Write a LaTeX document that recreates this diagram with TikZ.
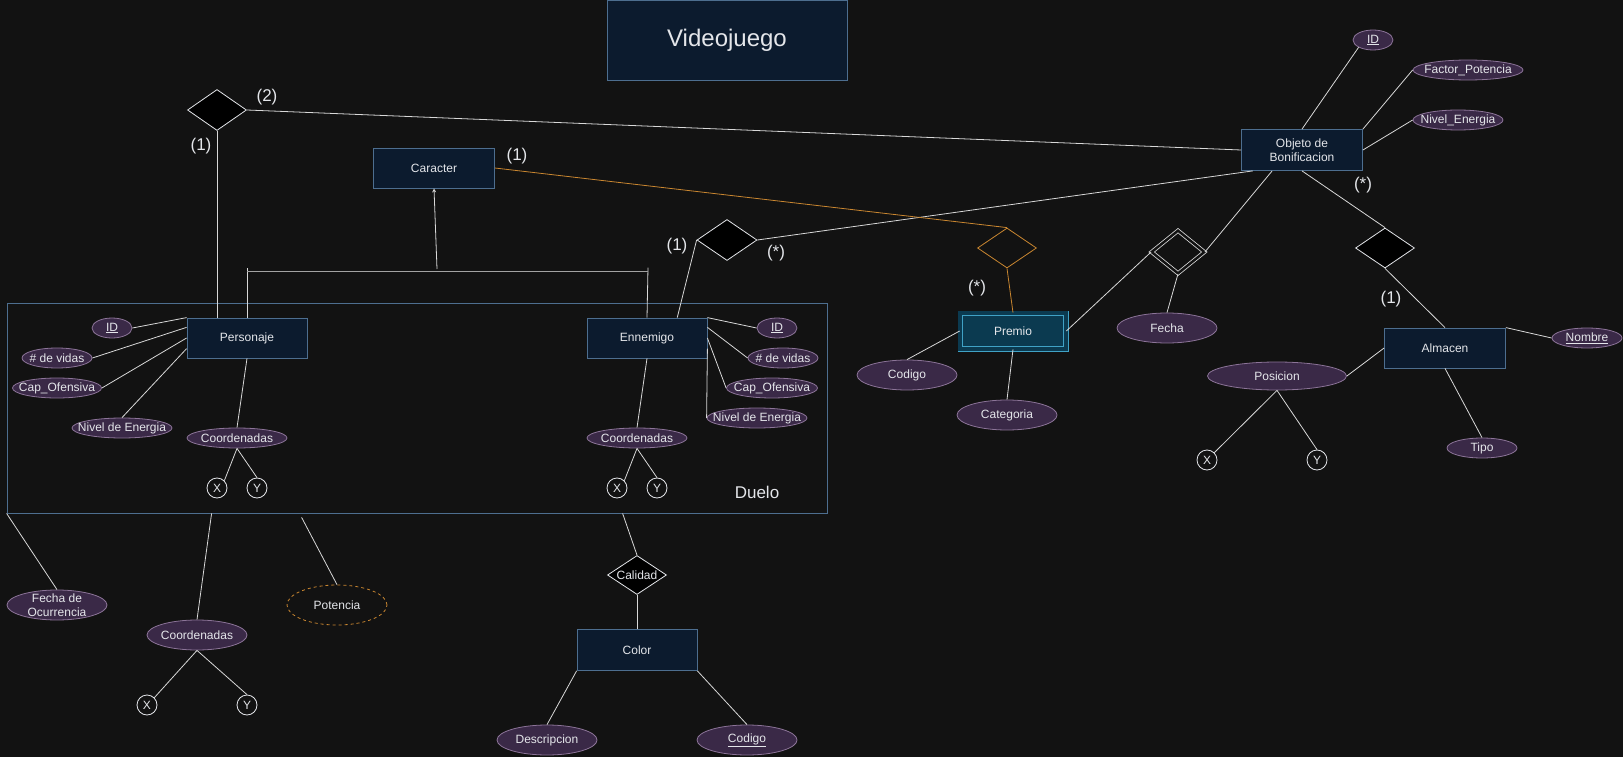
\documentclass[tikz,border=0pt]{standalone}
\usepackage{fontspec}
\setmainfont{Liberation Sans}
\usepackage{tikz}
\usetikzlibrary{shapes.geometric}
\usetikzlibrary{calc}
\definecolor{fondo}{HTML}{121212}
\definecolor{blanco}{HTML}{E4E6EA}
\definecolor{gris}{HTML}{D8D8D8}
\definecolor{entrelleno}{HTML}{0C1B2E}
\definecolor{entborde}{HTML}{4D6E8F}
\definecolor{atrrelleno}{HTML}{3A2947}
\definecolor{atrborde}{HTML}{8C7498}
\definecolor{debrelleno}{HTML}{0B3A50}
\definecolor{debborde}{HTML}{40A2C6}
\definecolor{naranja}{HTML}{C98630}
\tikzset{texto/.style={text=blanco,font=\fontsize{12}{14}\selectfont,inner sep=0pt}}
\tikzset{entidad/.style={texto,draw=entborde,fill=entrelleno,line width=0.8pt,minimum width=120pt,minimum height=40pt}}
\tikzset{atributo/.style={ellipse,draw=atrborde,fill=atrrelleno,line width=0.8pt,inner sep=0pt,minimum width=#1,minimum height=20pt},
		 atributo/.default=100pt}
\tikzset{punto/.style={circle,texto,draw=blanco,line width=0.8pt,minimum size=20pt}}
\tikzset{relacion/.style={diamond,draw=blanco,fill=black,line width=0.8pt,inner sep=0pt,minimum width=59pt,minimum height=41pt}}
\tikzset{con/.style={draw=gris,line width=0.8pt}}
\tikzset{card/.style={text=blanco,font=\fontsize{17}{20}\selectfont,inner sep=0pt}}

\begin{document}
\begin{tikzpicture}[x=1pt,y=-1pt]
	\useasboundingbox (0,0) rectangle (1623,757);
	\fill[fondo] (0,0) rectangle (1623,757);

	\node[entidad,minimum width=240pt,minimum height=80pt,font=\fontsize{24}{28}\selectfont] (titulo) at (727,40) {Videojuego};

	% Duelo
	\node[draw=entborde,line width=0.8pt,minimum width=820pt,minimum height=210pt] (duelo) at (417,408) {};
	\node[card,font=\fontsize{17}{20}\selectfont] (tduelo) at (757,492) {Duelo};

	\node[entidad] (pers) at (247,338) {Personaje};
	\node[entidad] (enem) at (647,338) {Ennemigo};
	\node[entidad,minimum width=121pt] (car) at (434,168) {Caracter};
	\node[entidad,minimum width=121pt,minimum height=41pt,align=center] (obj) at (1302,150) {Objeto de\\Bonificacion};
	\node[entidad,minimum width=121pt] (alm) at (1445,348) {Almacen};
	\node[entidad,minimum width=120pt,minimum height=41pt] (color) at (637,650) {Color};
	\node[entidad,draw=debborde,double=debrelleno,double distance=3.5pt,fill=debrelleno,
		minimum width=105.9pt,minimum height=35.9pt] (premio) at (1013,331) {Premio};

	\node[relacion] (r1) at (217,110) {};
	\node[relacion,minimum width=60pt] (r2) at (727,240) {};
	\node[relacion,minimum height=40pt] (r3) at (1385,248) {};
	\node[relacion,draw=naranja,fill=fondo,minimum height=40pt] (ro) at (1007,248) {};
	\node[relacion,draw=gris,fill=fondo,double=fondo,double distance=2.5pt,minimum width=53pt,minimum height=43pt] (rd) at (1178,252) {};
	\node[relacion,texto,aspect=1.5,minimum width=59pt,minimum height=39pt] (cal) at (637,575) {Calidad};

	% atributos de Personaje
	\node[atributo=40pt,label={[texto]center:\underline{ID}}] (pid) at (112,328) {};
	\node[atributo=70pt,label={[texto]center:\# de vidas}] (pvid) at (57,358) {};
	\node[atributo=89pt,label={[texto]center:Cap\_Ofensiva}] (pcap) at (57,388) {};
	\node[atributo,label={[texto]center:Nivel de Energia}] (pniv) at (122,428) {};
	\node[atributo,label={[texto]center:Coordenadas}] (pcoor) at (237,438) {};
	\node[punto] (px) at (217,488) {X};
	\node[punto] (py) at (257,488) {Y};

	% atributos de Ennemigo
	\node[atributo=40pt,label={[texto]center:\underline{ID}}] (eid) at (777,328) {};
	\node[atributo=70pt,label={[texto]center:\# de vidas}] (evid) at (783,358) {};
	\node[atributo=91pt,label={[texto]center:Cap\_Ofensiva}] (ecap) at (772,388) {};
	\node[atributo,label={[texto]center:Nivel de Energia}] (eniv) at (757,418) {};
	\node[atributo,label={[texto]center:Coordenadas}] (ecoor) at (637,438) {};
	\node[punto] (ex) at (617,488) {X};
	\node[punto] (ey) at (657,488) {Y};

	% atributos de Duelo
	\node[atributo,minimum height=30pt,label={[texto,align=center]center:Fecha de\\Ocurrencia}] (dfec) at (57,605) {};
	\node[atributo,minimum height=30pt,label={[texto]center:Coordenadas}] (dcoor) at (197,635) {};
	\node[punto] (dx) at (147,705) {X};
	\node[punto] (dy) at (247,705) {Y};
	\node[atributo,minimum height=40pt,draw=naranja,fill=none,dashed,label={[texto]center:Potencia}] (dpot) at (337,605) {};

	% atributos de Color
	\node[atributo,minimum height=30pt,label={[texto]center:Descripcion}] (cdes) at (547,740) {};
	\node[atributo,minimum height=30pt,label={[texto]center:\underline{Codigo}}] (ccod) at (747,740) {};

	% atributos de Premio, Objeto y Almacen
	\node[atributo,minimum height=30pt,label={[texto]center:Codigo}] (prcod) at (907,375) {};
	\node[atributo,minimum height=30pt,label={[texto]center:Categoria}] (prcat) at (1007,415) {};
	\node[atributo,minimum height=30pt,label={[texto]center:Fecha}] (fecha) at (1167,328) {};
	\node[atributo=40pt,label={[texto]center:\underline{ID}}] (oid) at (1373,40) {};
	\node[atributo=110pt,label={[texto]center:Factor\_Potencia}] (ofac) at (1468,70) {};
	\node[atributo=90pt,label={[texto]center:Nivel\_Energia}] (oniv) at (1458,120) {};
	\node[atributo=70pt,label={[texto]center:\underline{Nombre}}] (anom) at (1587,338) {};
	\node[atributo=139pt,minimum height=28pt,label={[texto]center:Posicion}] (apos) at (1277,376) {};
	\node[punto] (ax) at (1207,460) {X};
	\node[punto] (ay) at (1317,460) {Y};
	\node[atributo=70pt,label={[texto]center:Tipo}] (atip) at (1482,448) {};

	% cardinalidades
	\node[card] (k1) at (267,97) {(2)};
	\node[card] (k2) at (201,146) {(1)};
	\node[card] (k3) at (517,156) {(1)};
	\node[card] (k4) at (677,246) {(1)};
	\node[card] (k5) at (776,253) {(*)};
	\node[card] (k6) at (977,288) {(*)};
	\node[card] (k7) at (1363,185) {(*)};
	\node[card] (k8) at (1391,299) {(1)};

	% herencia
	\coordinate (hcar) at (437,269);
	\coordinate (hizq) at ($(pers.north)+(0,-50)$);
	\coordinate (hder) at ($(enem.north)+(1,-50)$);
	\draw[con] (pers.north) -- (hizq);
	\draw[con] (enem.north) -- (hder);
	\draw[draw=gris!75!black,line width=1.4pt] ($(hizq)+(0,4)$) -- ($(hder)+(0,4)$);
	\draw[con,->,>=stealth] (hcar) -- (car.south);

	% relaciones
	\draw[con] (r1.east) -- (obj.west);
	\draw[con] (r1.south) -- (r1.south |- pers.north);
	\draw[con] (r2.west) -- (enem.34);
	\draw[con] (r2.east) -- (obj.203);
	\draw[con,draw=naranja] (car.east) -- (ro.north);
	\draw[con,draw=naranja] (ro.south) -- (premio.north);
	\draw[con] (premio.east) -- (rd.west);
	\draw[con] (rd.east) -- (obj.215);
	\draw[con] (rd.south) -- (fecha.north);
	\draw[con] (obj.south) -- (r3.north);
	\draw[con] (r3.south) -- (alm.north);

	\coordinate (d1) at ($(duelo.south west)+(205,0)$);
	\coordinate (d2) at ($(duelo.south west)+(295,4)$);
	\coordinate (d3) at ($(duelo.south west)+(616,0)$);
	\draw[con] (d3) -- (cal.north);
	\draw[con] (cal.south) -- (color.north);

	% atributos
	\draw[con] (pid.east) -- (pers.north west);
	\draw[con] (pvid.east) -- (pers.170);
	\draw[con] (pcap.east) -- (pers.180);
	\draw[con] (pniv.north) -- (pers.190);
	\draw[con] (pers.south) -- (pcoor.north);
	\draw[con] (pcoor.south) -- (px.north east);
	\draw[con] (pcoor.south) -- (py.north);

	\draw[con] (enem.north east) -- (eid.west);
	\draw[con] (enem.10) -- (evid.west);
	\draw[con] (enem.east) -- (ecap.west);
	\draw[con] (enem.-10) -- (eniv.west);
	\draw[con] (enem.south) -- (ecoor.north);
	\draw[con] (ecoor.south) -- (ex.north east);
	\draw[con] (ecoor.south) -- (ey.north);

	\draw[con] (duelo.south west) -- (dfec.north);
	\draw[con] (d1) -- (dcoor.north);
	\draw[con] (dcoor.south) -- (dx.north east);
	\draw[con] (dcoor.south) -- (dy.north);
	\draw[con] (d2) -- (dpot.north);

	\draw[con] (color.south west) -- (cdes.north);
	\draw[con] (color.south east) -- (ccod.north);

	\draw[con] (premio.west) -- (prcod.north);
	\draw[con] (premio.south) -- (prcat.north);

	\draw[con] (oid.south west) -- (obj.north);
	\draw[con] (ofac.west) -- (obj.north east);
	\draw[con] (oniv.west) -- (obj.east);

	\draw[con] (alm.north east) -- (anom.west);
	\draw[con] (apos.east) -- (alm.west);
	\draw[con] (alm.south) -- (atip.north);
	\draw[con] (apos.south) -- (ax.north east);
	\draw[con] (apos.south) -- (ay.north);
\end{tikzpicture}
\end{document}
